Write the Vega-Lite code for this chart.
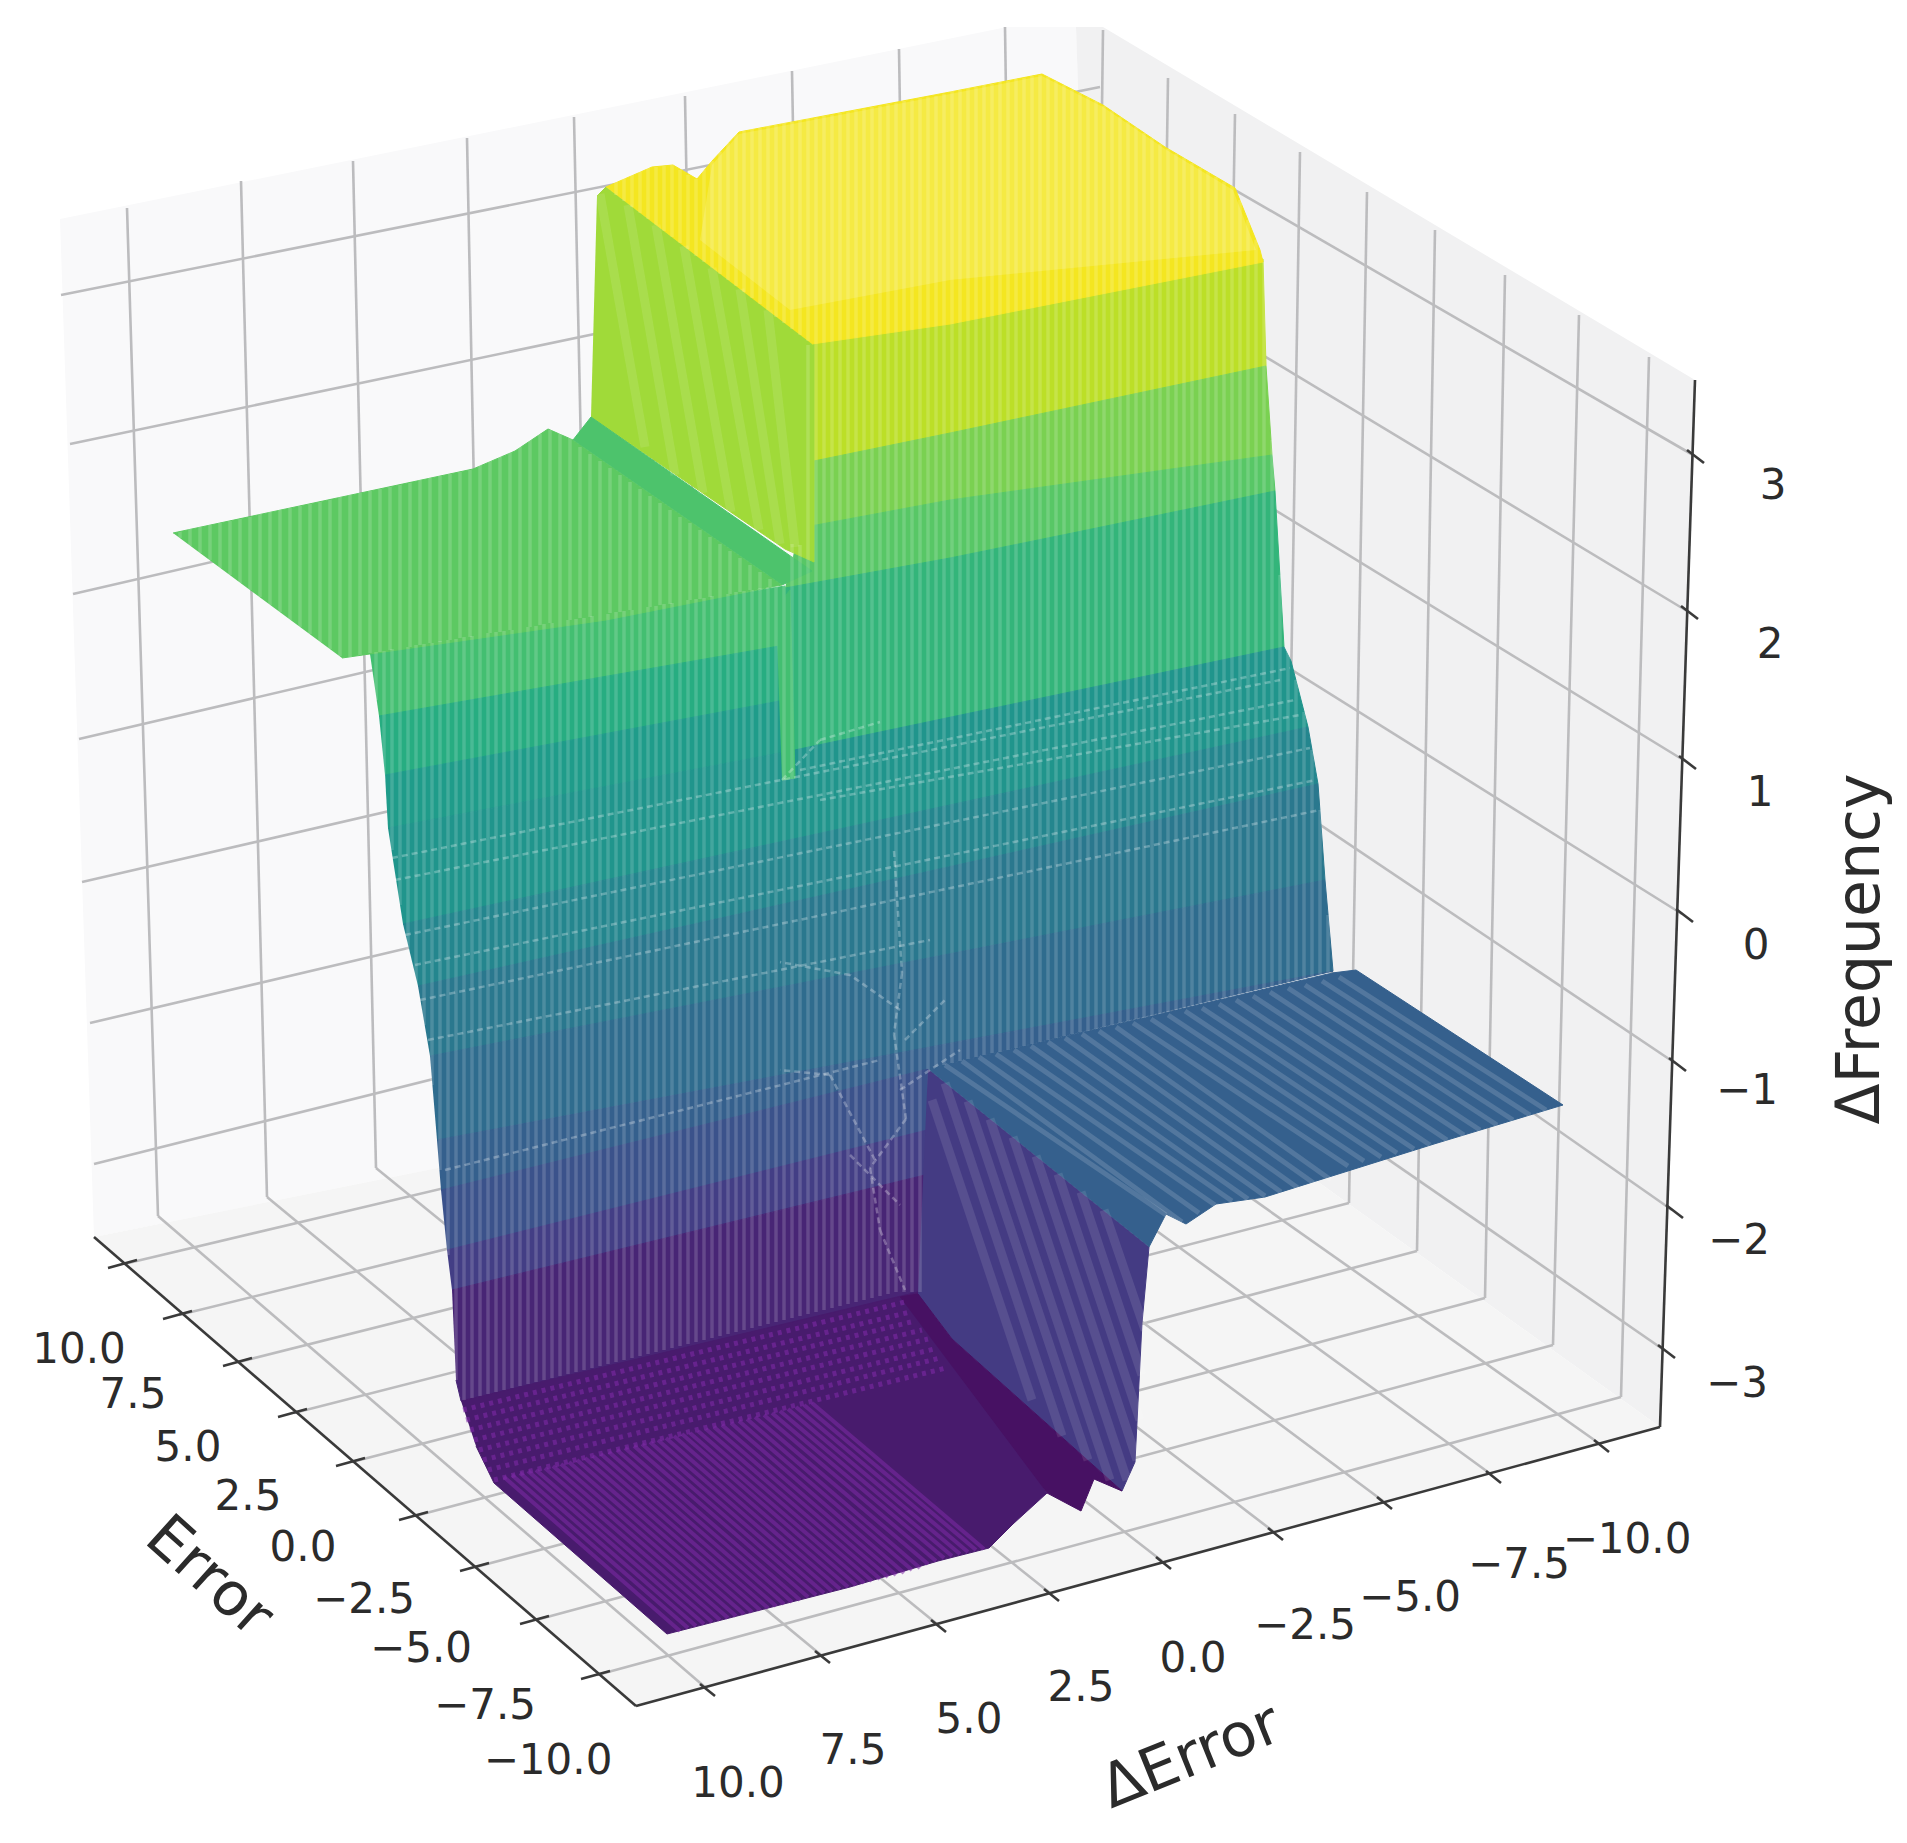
{"$schema":"https://vega.github.io/schema/vega-lite/v6.json","width":1907,"height":1843,"padding":0,"autosize":{"type":"fit","contains":"padding"},"background":"white","config":{"view":{"stroke":null}},
"datasets":{
"panes":[{"p":"l","i":0,"x":60,"y":219},{"p":"l","i":1,"x":1007,"y":27},{"p":"l","i":2,"x":1076,"y":27},{"p":"l","i":3,"x":1110,"y":1033},{"p":"l","i":4,"x":94,"y":1237},{"p":"r","i":0,"x":1076,"y":27},{"p":"r","i":1,"x":1103,"y":27},{"p":"r","i":2,"x":1695,"y":380},{"p":"r","i":3,"x":1660,"y":1427},{"p":"r","i":4,"x":1110,"y":1033},{"p":"f","i":0,"x":94,"y":1237},{"p":"f","i":1,"x":636,"y":1706},{"p":"f","i":2,"x":1660,"y":1427},{"p":"f","i":3,"x":1110,"y":1033}],
"grid":[{"x":127,"y":208,"x2":158,"y2":1216},{"x":241,"y":181,"x2":267,"y2":1197},{"x":353,"y":161,"x2":376,"y2":1168},{"x":467,"y":138,"x2":487,"y2":1143},{"x":574,"y":117,"x2":595,"y2":1120},{"x":685,"y":96,"x2":703,"y2":1095},{"x":792,"y":71,"x2":810,"y2":1075},{"x":899,"y":49,"x2":915,"y2":1055},{"x":1005,"y":27,"x2":1020,"y2":1035},
{"x":61,"y":295,"x2":1100,"y2":87},{"x":70,"y":444,"x2":1100,"y2":228},{"x":73,"y":594,"x2":1100,"y2":357},{"x":79,"y":739,"x2":1100,"y2":500},{"x":82,"y":882,"x2":1100,"y2":647},{"x":90,"y":1023,"x2":1100,"y2":785},{"x":94,"y":1164,"x2":1100,"y2":912},
{"x":1103,"y":30,"x2":1090,"y2":1035},{"x":1168,"y":78,"x2":1153,"y2":1075},{"x":1235,"y":114,"x2":1218,"y2":1115},{"x":1300,"y":152,"x2":1283,"y2":1160},{"x":1367,"y":192,"x2":1349,"y2":1203},{"x":1435,"y":230,"x2":1417,"y2":1251},{"x":1505,"y":275,"x2":1485,"y2":1298},{"x":1579,"y":315,"x2":1553,"y2":1345},{"x":1649,"y":357,"x2":1621,"y2":1397},
{"x":1100,"y":112,"x2":1693,"y2":455},{"x":1100,"y":257,"x2":1687,"y2":611},{"x":1100,"y":403,"x2":1685,"y2":761},{"x":1100,"y":550,"x2":1682,"y2":914},{"x":1100,"y":677,"x2":1675,"y2":1063},{"x":1100,"y":810,"x2":1672,"y2":1210},{"x":1100,"y":960,"x2":1664,"y2":1350},
{"x":124,"y":1264,"x2":1090,"y2":1035},{"x":179,"y":1315,"x2":1153,"y2":1075},{"x":239,"y":1362,"x2":1218,"y2":1115},{"x":294,"y":1413,"x2":1283,"y2":1160},{"x":352,"y":1462,"x2":1349,"y2":1203},{"x":415,"y":1516,"x2":1417,"y2":1251},{"x":476,"y":1567,"x2":1485,"y2":1298},{"x":536,"y":1620,"x2":1553,"y2":1345},{"x":597,"y":1675,"x2":1621,"y2":1397},
{"x":158,"y":1216,"x2":706,"y2":1688},{"x":267,"y":1197,"x2":821,"y2":1655},{"x":376,"y":1168,"x2":937,"y2":1624},{"x":487,"y":1143,"x2":1050,"y2":1593},{"x":595,"y":1120,"x2":1162,"y2":1561},{"x":703,"y":1095,"x2":1274,"y2":1532},{"x":810,"y":1075,"x2":1383,"y2":1501},{"x":915,"y":1055,"x2":1492,"y2":1475},{"x":1020,"y":1035,"x2":1600,"y2":1444}],
"axes":[{"x":94,"y":1237,"x2":636,"y2":1706},{"x":636,"y":1706,"x2":1660,"y2":1427},{"x":1660,"y":1427,"x2":1695,"y2":380},
{"x":108,"y":1268,"x2":137,"y2":1260},{"x":163,"y":1319,"x2":192,"y2":1311},{"x":223,"y":1366,"x2":252,"y2":1358},{"x":278,"y":1417,"x2":307,"y2":1409},{"x":336,"y":1466,"x2":365,"y2":1458},{"x":399,"y":1520,"x2":428,"y2":1512},{"x":460,"y":1571,"x2":489,"y2":1563},{"x":520,"y":1624,"x2":549,"y2":1616},{"x":581,"y":1679,"x2":610,"y2":1671},
{"x":700,"y":1684,"x2":715,"y2":1696},{"x":815,"y":1651,"x2":830,"y2":1663},{"x":931,"y":1620,"x2":946,"y2":1632},{"x":1044,"y":1589,"x2":1059,"y2":1601},{"x":1156,"y":1557,"x2":1171,"y2":1569},{"x":1268,"y":1528,"x2":1283,"y2":1540},{"x":1377,"y":1497,"x2":1392,"y2":1509},{"x":1486,"y":1471,"x2":1501,"y2":1483},{"x":1594,"y":1440,"x2":1609,"y2":1452},
{"x":1687,"y":450,"x2":1704,"y2":463},{"x":1681,"y":606,"x2":1698,"y2":619},{"x":1679,"y":756,"x2":1696,"y2":769},{"x":1676,"y":909,"x2":1693,"y2":922},{"x":1669,"y":1058,"x2":1686,"y2":1071},{"x":1666,"y":1205,"x2":1683,"y2":1218},{"x":1658,"y":1345,"x2":1675,"y2":1358}],
"surface":[
{"p":3,"i":0,"x":812,"y":344,"z":2.56},{"p":3,"i":1,"x":950,"y":322,"z":2.56},{"p":3,"i":2,"x":1263,"y":259,"z":2.56},{"p":3,"i":3,"x":1266,"y":366,"z":2.56},{"p":3,"i":4,"x":950,"y":433,"z":2.56},{"p":3,"i":5,"x":809,"y":462,"z":2.56},
{"p":4,"i":0,"x":809,"y":462,"z":1.92},{"p":4,"i":1,"x":950,"y":433,"z":1.92},{"p":4,"i":2,"x":1266,"y":366,"z":1.92},{"p":4,"i":3,"x":1272,"y":455,"z":1.92},{"p":4,"i":4,"x":950,"y":500,"z":1.92},{"p":4,"i":5,"x":800,"y":528,"z":1.92},
{"p":5,"i":0,"x":800,"y":528,"z":1.54},{"p":5,"i":1,"x":950,"y":500,"z":1.54},{"p":5,"i":2,"x":1272,"y":455,"z":1.54},{"p":5,"i":3,"x":1275,"y":491,"z":1.54},{"p":5,"i":4,"x":1082,"y":531,"z":1.54},{"p":5,"i":5,"x":950,"y":558,"z":1.54},{"p":5,"i":6,"x":785,"y":588,"z":1.54},
{"p":6,"i":0,"x":785,"y":588,"z":1.02},{"p":6,"i":1,"x":950,"y":558,"z":1.02},{"p":6,"i":2,"x":1082,"y":531,"z":1.02},{"p":6,"i":3,"x":1275,"y":491,"z":1.02},{"p":6,"i":4,"x":1284,"y":647,"z":1.02},{"p":6,"i":5,"x":876,"y":733,"z":1.02},{"p":6,"i":6,"x":785,"y":752,"z":1.02},
{"p":7,"i":0,"x":370,"y":654,"z":1.28},{"p":7,"i":1,"x":785,"y":586,"z":1.28},{"p":7,"i":2,"x":785,"y":645,"z":1.28},{"p":7,"i":3,"x":379,"y":716,"z":1.28},
{"p":8,"i":0,"x":379,"y":716,"z":0.77},{"p":8,"i":1,"x":785,"y":645,"z":0.77},{"p":8,"i":2,"x":785,"y":700,"z":0.77},{"p":8,"i":3,"x":385,"y":775,"z":0.77},
{"p":9,"i":0,"x":385,"y":775,"z":0.32},{"p":9,"i":1,"x":785,"y":700,"z":0.32},{"p":9,"i":2,"x":785,"y":752,"z":0.32},{"p":9,"i":3,"x":388,"y":828,"z":0.32},
{"p":10,"i":0,"x":388,"y":828,"z":0.13},{"p":10,"i":1,"x":785,"y":752,"z":0.13},{"p":10,"i":2,"x":1284,"y":647,"z":0.13},{"p":10,"i":3,"x":1291,"y":661,"z":0.13},{"p":10,"i":4,"x":1308,"y":727,"z":0.13},{"p":10,"i":5,"x":403,"y":924,"z":0.13},
{"p":11,"i":0,"x":403,"y":924,"z":-0.26},{"p":11,"i":1,"x":1308,"y":727,"z":-0.26},{"p":11,"i":2,"x":1318,"y":784,"z":-0.26},{"p":11,"i":3,"x":418,"y":986,"z":-0.26},
{"p":12,"i":0,"x":418,"y":986,"z":-0.64},{"p":12,"i":1,"x":1318,"y":784,"z":-0.64},{"p":12,"i":2,"x":1325,"y":880,"z":-0.64},{"p":12,"i":3,"x":430,"y":1056,"z":-0.64},
{"p":13,"i":0,"x":430,"y":1056,"z":-0.96},{"p":13,"i":1,"x":1325,"y":880,"z":-0.96},{"p":13,"i":2,"x":1333,"y":971,"z":-0.96},{"p":13,"i":3,"x":437,"y":1140,"z":-0.96},
{"p":14,"i":0,"x":437,"y":1140,"z":-1.28},{"p":14,"i":1,"x":1333,"y":971,"z":-1.28},{"p":14,"i":2,"x":928,"y":1069,"z":-1.28},{"p":14,"i":3,"x":441,"y":1190,"z":-1.28},
{"p":15,"i":0,"x":441,"y":1190,"z":-1.6},{"p":15,"i":1,"x":928,"y":1069,"z":-1.6},{"p":15,"i":2,"x":927,"y":1130,"z":-1.6},{"p":15,"i":3,"x":447,"y":1250,"z":-1.6},
{"p":16,"i":0,"x":447,"y":1250,"z":-2.05},{"p":16,"i":1,"x":927,"y":1130,"z":-2.05},{"p":16,"i":2,"x":925,"y":1175,"z":-2.05},{"p":16,"i":3,"x":452,"y":1290,"z":-2.05},
{"p":17,"i":0,"x":452,"y":1290,"z":-2.56},{"p":17,"i":1,"x":925,"y":1175,"z":-2.56},{"p":17,"i":2,"x":920,"y":1294,"z":-2.56},{"p":17,"i":3,"x":461,"y":1401,"z":-2.56},{"p":17,"i":4,"x":456,"y":1380,"z":-2.56},
{"p":1,"i":0,"x":597,"y":196,"z":2.3},{"p":1,"i":1,"x":606,"y":187,"z":2.3},{"p":1,"i":2,"x":814,"y":344,"z":2.3},{"p":1,"i":3,"x":814,"y":562,"z":2.3},{"p":1,"i":4,"x":785,"y":549,"z":2.3},{"p":1,"i":5,"x":591,"y":417,"z":2.3},
{"p":2,"i":0,"x":606,"y":187,"z":3.1},{"p":2,"i":1,"x":652,"y":167,"z":3.1},{"p":2,"i":2,"x":673,"y":165,"z":3.1},{"p":2,"i":3,"x":697,"y":179,"z":3.1},{"p":2,"i":4,"x":712,"y":161,"z":3.1},{"p":2,"i":5,"x":739,"y":132,"z":3.1},{"p":2,"i":6,"x":950,"y":92,"z":3.1},{"p":2,"i":7,"x":1042,"y":74,"z":3.1},{"p":2,"i":8,"x":1103,"y":105,"z":3.1},{"p":2,"i":9,"x":1165,"y":147,"z":3.1},{"p":2,"i":10,"x":1235,"y":188,"z":3.1},{"p":2,"i":11,"x":1260,"y":250,"z":3.1},{"p":2,"i":12,"x":1263,"y":262,"z":3.1},{"p":2,"i":13,"x":950,"y":324,"z":3.1},{"p":2,"i":14,"x":812,"y":344,"z":3.1},
{"p":18,"i":0,"x":461,"y":1401,"z":-2.75},{"p":18,"i":1,"x":918,"y":1292,"z":-2.75},{"p":18,"i":2,"x":1047,"y":1493,"z":-2.75},{"p":18,"i":3,"x":1013,"y":1524,"z":-2.75},{"p":18,"i":4,"x":989,"y":1548,"z":-2.75},{"p":18,"i":5,"x":938,"y":1561,"z":-2.75},{"p":18,"i":6,"x":850,"y":1587,"z":-2.75},{"p":18,"i":7,"x":667,"y":1634,"z":-2.75},{"p":18,"i":8,"x":494,"y":1483,"z":-2.75},{"p":18,"i":9,"x":476,"y":1446,"z":-2.75},
{"p":19,"i":0,"x":928,"y":1069,"z":-2.11},{"p":19,"i":1,"x":1149,"y":1247,"z":-2.11},{"p":19,"i":2,"x":1142,"y":1323,"z":-2.11},{"p":19,"i":3,"x":1135,"y":1462,"z":-2.11},{"p":19,"i":4,"x":1122,"y":1491,"z":-2.11},{"p":19,"i":5,"x":952,"y":1339,"z":-2.11},{"p":19,"i":6,"x":918,"y":1294,"z":-2.11},
{"p":20,"i":0,"x":900,"y":1297,"z":-2.94},{"p":20,"i":1,"x":918,"y":1294,"z":-2.94},{"p":20,"i":2,"x":952,"y":1339,"z":-2.94},{"p":20,"i":3,"x":1122,"y":1491,"z":-2.94},{"p":20,"i":4,"x":1094,"y":1479,"z":-2.94},{"p":20,"i":5,"x":1081,"y":1511,"z":-2.94},{"p":20,"i":6,"x":1047,"y":1493,"z":-2.94},
{"p":21,"i":0,"x":173,"y":533,"z":1.6},{"p":21,"i":1,"x":473,"y":469,"z":1.6},{"p":21,"i":2,"x":515,"y":451,"z":1.6},{"p":21,"i":3,"x":548,"y":429,"z":1.6},{"p":21,"i":4,"x":573,"y":440,"z":1.6},{"p":21,"i":5,"x":782,"y":585,"z":1.6},{"p":21,"i":6,"x":606,"y":620,"z":1.6},{"p":21,"i":7,"x":342,"y":658,"z":1.6},
{"p":22,"i":0,"x":573,"y":440,"z":1.41},{"p":22,"i":1,"x":591,"y":417,"z":1.41},{"p":22,"i":2,"x":812,"y":571,"z":1.41},{"p":22,"i":3,"x":782,"y":585,"z":1.41},
{"p":23,"i":0,"x":776,"y":608,"z":1.28},{"p":23,"i":1,"x":790,"y":590,"z":1.28},{"p":23,"i":2,"x":795,"y":778,"z":1.28},{"p":23,"i":3,"x":782,"y":780,"z":1.28},
{"p":24,"i":0,"x":928,"y":1069,"z":-1.28},{"p":24,"i":1,"x":1332,"y":973,"z":-1.28},{"p":24,"i":2,"x":1356,"y":970,"z":-1.28},{"p":24,"i":3,"x":1563,"y":1105,"z":-1.28},{"p":24,"i":4,"x":1434,"y":1144,"z":-1.28},{"p":24,"i":5,"x":1265,"y":1197,"z":-1.28},{"p":24,"i":6,"x":1216,"y":1204,"z":-1.28},{"p":24,"i":7,"x":1186,"y":1224,"z":-1.28},{"p":24,"i":8,"x":1166,"y":1214,"z":-1.28},{"p":24,"i":9,"x":1149,"y":1247,"z":-1.28}],
"sheen":[{"i":0,"x":739,"y":134},{"i":1,"x":950,"y":94},{"i":2,"x":1042,"y":76},{"i":3,"x":1103,"y":107},{"i":4,"x":1165,"y":149},{"i":5,"x":1233,"y":190},{"i":6,"x":1256,"y":250},{"i":7,"x":950,"y":280},{"i":8,"x":790,"y":310},{"i":9,"x":700,"y":240},{"i":10,"x":712,"y":165}],
"mesh":[{"x":376,"y":652,"y2":700},{"x":384,"y":651,"y2":790},{"x":392,"y":649,"y2":850},{"x":400,"y":648,"y2":905},{"x":408,"y":647,"y2":955},{"x":416,"y":645,"y2":985},{"x":424,"y":644,"y2":1025},{"x":432,"y":643,"y2":1085},{"x":440,"y":641,"y2":1170},{"x":448,"y":640,"y2":1255},{"x":456,"y":639,"y2":1380},{"x":464,"y":637,"y2":1400},{"x":472,"y":636,"y2":1398},{"x":480,"y":635,"y2":1396},{"x":488,"y":633,"y2":1394},{"x":496,"y":632,"y2":1392},{"x":504,"y":631,"y2":1390},{"x":512,"y":630,"y2":1388},{"x":520,"y":628,"y2":1386},{"x":528,"y":627,"y2":1384},{"x":536,"y":626,"y2":1382},{"x":544,"y":624,"y2":1380},{"x":552,"y":623,"y2":1378},{"x":560,"y":622,"y2":1376},{"x":568,"y":620,"y2":1374},{"x":576,"y":619,"y2":1372},{"x":584,"y":618,"y2":1370},{"x":592,"y":616,"y2":1368},{"x":600,"y":615,"y2":1366},{"x":608,"y":614,"y2":1364},{"x":616,"y":612,"y2":1362},{"x":624,"y":611,"y2":1360},{"x":632,"y":610,"y2":1358},{"x":640,"y":608,"y2":1356},{"x":648,"y":607,"y2":1354},{"x":656,"y":606,"y2":1352},{"x":664,"y":604,"y2":1350},{"x":672,"y":603,"y2":1348},{"x":680,"y":602,"y2":1346},{"x":688,"y":600,"y2":1344},{"x":696,"y":599,"y2":1342},{"x":704,"y":598,"y2":1340},{"x":712,"y":596,"y2":1338},{"x":720,"y":595,"y2":1336},{"x":728,"y":594,"y2":1334},{"x":736,"y":592,"y2":1332},{"x":744,"y":591,"y2":1330},{"x":752,"y":590,"y2":1328},{"x":760,"y":588,"y2":1326},{"x":768,"y":587,"y2":1324},{"x":776,"y":586,"y2":1322},{"x":784,"y":585,"y2":1320},{"x":792,"y":544,"y2":1318},{"x":800,"y":545,"y2":1316},{"x":808,"y":345,"y2":1314},{"x":816,"y":118,"y2":1312},{"x":824,"y":116,"y2":1310},{"x":832,"y":115,"y2":1308},{"x":840,"y":113,"y2":1306},{"x":848,"y":112,"y2":1304},{"x":856,"y":110,"y2":1302},{"x":864,"y":109,"y2":1300},{"x":872,"y":107,"y2":1298},{"x":880,"y":106,"y2":1296},{"x":888,"y":104,"y2":1294},{"x":896,"y":103,"y2":1292},{"x":904,"y":101,"y2":1292},{"x":912,"y":100,"y2":1292},{"x":920,"y":98,"y2":1292},{"x":928,"y":97,"y2":1069},{"x":936,"y":96,"y2":1067},{"x":944,"y":94,"y2":1065},{"x":952,"y":91,"y2":1063},{"x":960,"y":90,"y2":1061},{"x":968,"y":88,"y2":1059},{"x":976,"y":87,"y2":1057},{"x":984,"y":85,"y2":1055},{"x":992,"y":84,"y2":1053},{"x":1000,"y":82,"y2":1052},{"x":1008,"y":81,"y2":1050},{"x":1016,"y":79,"y2":1048},{"x":1024,"y":78,"y2":1046},{"x":1032,"y":76,"y2":1044},{"x":1040,"y":75,"y2":1042},{"x":1048,"y":77,"y2":1040},{"x":1056,"y":81,"y2":1038},{"x":1064,"y":85,"y2":1036},{"x":1072,"y":89,"y2":1034},{"x":1080,"y":93,"y2":1032},{"x":1088,"y":97,"y2":1031},{"x":1096,"y":101,"y2":1029},{"x":1104,"y":106,"y2":1027},{"x":1112,"y":111,"y2":1025},{"x":1120,"y":117,"y2":1023},{"x":1128,"y":122,"y2":1021},{"x":1136,"y":127,"y2":1019},{"x":1144,"y":133,"y2":1018},{"x":1152,"y":138,"y2":1016},{"x":1160,"y":144,"y2":1014},{"x":1168,"y":149,"y2":1012},{"x":1176,"y":154,"y2":1010},{"x":1184,"y":158,"y2":1008},{"x":1192,"y":163,"y2":1006},{"x":1200,"y":168,"y2":1004},{"x":1208,"y":172,"y2":1002},{"x":1216,"y":177,"y2":1000},{"x":1224,"y":182,"y2":999},{"x":1232,"y":186,"y2":997},{"x":1240,"y":200,"y2":995},{"x":1248,"y":220,"y2":993},{"x":1256,"y":240,"y2":991},{"x":1264,"y":262,"y2":989},{"x":1272,"y":440,"y2":987},{"x":1280,"y":575,"y2":985},{"x":1288,"y":650,"y2":983},{"x":1296,"y":680,"y2":981},{"x":1304,"y":712,"y2":980},{"x":1312,"y":750,"y2":978},{"x":1320,"y":810,"y2":976},{"x":1328,"y":915,"y2":974},
{"x":616,"y":180,"y2":195},{"x":624,"y":177,"y2":201},{"x":632,"y":173,"y2":207},{"x":640,"y":170,"y2":213},{"x":648,"y":168,"y2":219},{"x":656,"y":167,"y2":225},{"x":664,"y":166,"y2":231},{"x":672,"y":165,"y2":237},{"x":680,"y":170,"y2":243},{"x":688,"y":175,"y2":249},{"x":696,"y":179,"y2":256},{"x":704,"y":170,"y2":262},{"x":712,"y":161,"y2":268},{"x":720,"y":152,"y2":274},{"x":728,"y":143,"y2":280},{"x":736,"y":134,"y2":286},{"x":744,"y":131,"y2":292},{"x":752,"y":129,"y2":298},{"x":760,"y":128,"y2":304},{"x":768,"y":126,"y2":310},{"x":776,"y":125,"y2":317},{"x":784,"y":123,"y2":323},{"x":792,"y":122,"y2":329},{"x":800,"y":120,"y2":335},{"x":808,"y":118,"y2":341},
{"x":180,"y":532,"y2":538},{"x":190,"y":529,"y2":546},{"x":200,"y":527,"y2":553},{"x":210,"y":525,"y2":560},{"x":220,"y":523,"y2":568},{"x":230,"y":521,"y2":575},{"x":240,"y":519,"y2":583},{"x":250,"y":517,"y2":590},{"x":260,"y":514,"y2":597},{"x":270,"y":512,"y2":605},{"x":280,"y":510,"y2":612},{"x":290,"y":508,"y2":620},{"x":300,"y":506,"y2":627},{"x":310,"y":504,"y2":634},{"x":320,"y":502,"y2":642},{"x":330,"y":500,"y2":649},{"x":340,"y":497,"y2":656},{"x":350,"y":495,"y2":657},{"x":360,"y":493,"y2":655},{"x":370,"y":491,"y2":653},{"x":380,"y":489,"y2":652},{"x":390,"y":487,"y2":650},{"x":400,"y":485,"y2":648},{"x":410,"y":483,"y2":647},{"x":420,"y":480,"y2":645},{"x":430,"y":478,"y2":643},{"x":440,"y":476,"y2":642},{"x":450,"y":474,"y2":640},{"x":460,"y":472,"y2":638},{"x":470,"y":470,"y2":637},{"x":480,"y":465,"y2":635},{"x":490,"y":460,"y2":633},{"x":500,"y":455,"y2":632},{"x":510,"y":450,"y2":630},{"x":520,"y":445,"y2":628},{"x":530,"y":439,"y2":627},{"x":540,"y":434,"y2":625},{"x":550,"y":430,"y2":623},{"x":560,"y":433,"y2":622},{"x":570,"y":438,"y2":620},{"x":580,"y":447,"y2":618},{"x":590,"y":454,"y2":617},{"x":600,"y":461,"y2":615},{"x":610,"y":468,"y2":613},{"x":620,"y":475,"y2":612},{"x":630,"y":482,"y2":610},{"x":640,"y":489,"y2":608},{"x":650,"y":496,"y2":607},{"x":660,"y":503,"y2":605},{"x":670,"y":510,"y2":604},{"x":680,"y":517,"y2":602},{"x":690,"y":523,"y2":600},{"x":700,"y":530,"y2":599},{"x":710,"y":537,"y2":597},{"x":720,"y":544,"y2":595},{"x":730,"y":551,"y2":594},{"x":740,"y":558,"y2":592},{"x":750,"y":565,"y2":590},{"x":760,"y":572,"y2":589},{"x":770,"y":579,"y2":587}],
"floorMesh":[{"x":504,"y":1477,"x2":680,"y2":1631},{"x":512,"y":1475,"x2":688,"y2":1628},{"x":520,"y":1473,"x2":696,"y2":1626},{"x":528,"y":1471,"x2":704,"y2":1624},{"x":536,"y":1470,"x2":712,"y2":1622},{"x":545,"y":1468,"x2":720,"y2":1620},{"x":553,"y":1466,"x2":728,"y2":1618},{"x":561,"y":1464,"x2":736,"y2":1616},{"x":569,"y":1462,"x2":744,"y2":1614},{"x":577,"y":1460,"x2":752,"y2":1612},{"x":585,"y":1458,"x2":760,"y2":1610},{"x":593,"y":1456,"x2":768,"y2":1608},{"x":601,"y":1454,"x2":776,"y2":1606},{"x":609,"y":1452,"x2":784,"y2":1604},{"x":617,"y":1450,"x2":792,"y2":1602},{"x":625,"y":1448,"x2":800,"y2":1600},{"x":634,"y":1446,"x2":808,"y2":1597},{"x":642,"y":1444,"x2":816,"y2":1595},{"x":650,"y":1442,"x2":824,"y2":1593},{"x":658,"y":1440,"x2":832,"y2":1591},{"x":666,"y":1438,"x2":840,"y2":1589},{"x":674,"y":1436,"x2":848,"y2":1587},{"x":682,"y":1434,"x2":856,"y2":1585},{"x":690,"y":1433,"x2":864,"y2":1583},{"x":698,"y":1431,"x2":872,"y2":1581},{"x":706,"y":1429,"x2":880,"y2":1579},{"x":714,"y":1427,"x2":888,"y2":1577},{"x":722,"y":1425,"x2":896,"y2":1575},{"x":731,"y":1423,"x2":904,"y2":1573},{"x":739,"y":1421,"x2":912,"y2":1570},{"x":747,"y":1419,"x2":920,"y2":1568},{"x":755,"y":1417,"x2":928,"y2":1564},{"x":764,"y":1415,"x2":936,"y2":1561},{"x":772,"y":1413,"x2":944,"y2":1558},{"x":780,"y":1411,"x2":952,"y2":1556},{"x":788,"y":1409,"x2":960,"y2":1554},{"x":796,"y":1407,"x2":968,"y2":1552},{"x":804,"y":1405,"x2":976,"y2":1550},{"x":812,"y":1403,"x2":984,"y2":1549}],
"floorDots":[{"x":463,"y":1410,"x2":905,"y2":1302},{"x":466,"y":1420,"x2":910,"y2":1312},{"x":470,"y":1430,"x2":915,"y2":1321},{"x":474,"y":1440,"x2":922,"y2":1330},{"x":479,"y":1450,"x2":928,"y2":1339},{"x":483,"y":1460,"x2":934,"y2":1349},{"x":488,"y":1470,"x2":940,"y2":1358},{"x":494,"y":1480,"x2":946,"y2":1368}],
"plateauMesh":[{"x":945,"y":1065,"x2":1166,"y2":1215},{"x":962,"y":1061,"x2":1182,"y2":1222},{"x":979,"y":1057,"x2":1199,"y2":1213},{"x":996,"y":1054,"x2":1215,"y2":1205},{"x":1014,"y":1050,"x2":1232,"y2":1201},{"x":1031,"y":1046,"x2":1248,"y2":1199},{"x":1048,"y":1042,"x2":1265,"y2":1196},{"x":1065,"y":1038,"x2":1281,"y2":1192},{"x":1082,"y":1034,"x2":1298,"y2":1188},{"x":1099,"y":1031,"x2":1315,"y2":1184},{"x":1116,"y":1027,"x2":1331,"y2":1180},{"x":1133,"y":1023,"x2":1348,"y2":1166},{"x":1151,"y":1019,"x2":1364,"y2":1161},{"x":1168,"y":1015,"x2":1381,"y2":1157},{"x":1185,"y":1011,"x2":1397,"y2":1153},{"x":1202,"y":1008,"x2":1414,"y2":1149},{"x":1219,"y":1004,"x2":1430,"y2":1145},{"x":1236,"y":1000,"x2":1447,"y2":1140},{"x":1253,"y":996,"x2":1464,"y2":1135},{"x":1270,"y":992,"x2":1480,"y2":1130},{"x":1288,"y":988,"x2":1497,"y2":1125},{"x":1305,"y":985,"x2":1513,"y2":1120},{"x":1322,"y":981,"x2":1530,"y2":1115},{"x":1339,"y":977,"x2":1546,"y2":1110}],
"wallMesh":[{"x":600,"y":194,"x2":645,"y2":447},{"x":628,"y":205,"x2":675,"y2":475},{"x":656,"y":225,"x2":703,"y2":493},{"x":684,"y":246,"x2":731,"y2":512},{"x":712,"y":268,"x2":759,"y2":530},{"x":740,"y":289,"x2":780,"y2":544},{"x":768,"y":310,"x2":795,"y2":547},
{"x":932,"y":1100,"x2":1032,"y2":1400},{"x":945,"y":1083,"x2":1062,"y2":1436},{"x":968,"y":1101,"x2":1088,"y2":1460},{"x":990,"y":1119,"x2":1110,"y2":1480},{"x":1013,"y":1137,"x2":1127,"y2":1480},{"x":1036,"y":1156,"x2":1137,"y2":1460},{"x":1058,"y":1174,"x2":1140,"y2":1420},{"x":1081,"y":1192,"x2":1142,"y2":1375},{"x":1104,"y":1210,"x2":1145,"y2":1330}],
"ripples":[{"x":392,"y":858,"x2":1280,"y2":680},{"x":395,"y":880,"x2":1295,"y2":700},{"x":405,"y":935,"x2":1310,"y2":748},{"x":415,"y":965,"x2":1316,"y2":780},{"x":420,"y":1000,"x2":1320,"y2":810},{"x":428,"y":1040,"x2":930,"y2":940},{"x":445,"y":1170,"x2":880,"y2":1060},{"x":800,"y":770,"x2":1290,"y2":668},{"x":820,"y":800,"x2":1300,"y2":715},
{"x":894,"y":851,"x2":902,"y2":973},{"x":902,"y":973,"x2":894,"y2":1034},{"x":894,"y":1034,"x2":906,"y2":1119},{"x":906,"y":1119,"x2":870,"y2":1168},{"x":870,"y":1168,"x2":880,"y2":1230},{"x":880,"y":1230,"x2":905,"y2":1290},{"x":782,"y":780,"x2":820,"y2":740},{"x":820,"y":740,"x2":880,"y2":722},{"x":900,"y":1010,"x2":850,"y2":975},{"x":850,"y":975,"x2":780,"y2":962},{"x":875,"y":1160,"x2":830,"y2":1075},{"x":830,"y":1075,"x2":780,"y2":1070},{"x":850,"y":1155,"x2":900,"y2":1205},{"x":905,"y":1040,"x2":945,"y2":1000},{"x":900,"y":1090,"x2":960,"y2":1050}],
"labels":[{"t":"10.0","x":79,"y":1350},{"t":"7.5","x":133,"y":1395},{"t":"5.0","x":188,"y":1448},{"t":"2.5","x":248,"y":1497},{"t":"0.0","x":303,"y":1548},{"t":"−2.5","x":364,"y":1600},{"t":"−5.0","x":421,"y":1649},{"t":"−7.5","x":485,"y":1706},{"t":"−10.0","x":548,"y":1761},
{"t":"10.0","x":738,"y":1784},{"t":"7.5","x":853,"y":1751},{"t":"5.0","x":969,"y":1720},{"t":"2.5","x":1081,"y":1688},{"t":"0.0","x":1193,"y":1659},{"t":"−2.5","x":1305,"y":1626},{"t":"−5.0","x":1410,"y":1598},{"t":"−7.5","x":1519,"y":1565},{"t":"−10.0","x":1627,"y":1540},
{"t":"3","x":1773,"y":486},{"t":"2","x":1770,"y":645},{"t":"1","x":1760,"y":793},{"t":"0","x":1756,"y":946},{"t":"−1","x":1747,"y":1091},{"t":"−2","x":1739,"y":1241},{"t":"−3","x":1737,"y":1384}]
},
"encoding":{"x":{"field":"x","type":"quantitative","scale":{"domain":[0,1907],"nice":false,"zero":false},"axis":null},"y":{"field":"y","type":"quantitative","scale":{"domain":[1843,0],"nice":false,"zero":false},"axis":null}},
"layer":[
{"data":{"name":"panes"},"mark":{"type":"line","strokeWidth":0},"encoding":{"order":{"field":"i"},"detail":{"field":"p"},"fill":{"field":"p","type":"nominal","scale":{"domain":["l","r","f"],"range":["#f9f9fa","#f1f1f2","#f5f5f5"]},"legend":null}}},
{"data":{"name":"grid"},"mark":{"type":"rule","color":"#bcbcbe","strokeWidth":2.6},"encoding":{"x2":{"field":"x2"},"y2":{"field":"y2"}}},
{"data":{"name":"axes"},"mark":{"type":"rule","color":"#3a3a3a","strokeWidth":2.6},"encoding":{"x2":{"field":"x2"},"y2":{"field":"y2"}}},
{"data":{"name":"surface"},"mark":{"type":"line","strokeWidth":1},"encoding":{"order":{"field":"i"},"detail":{"field":"p"},"fill":{"field":"z","type":"quantitative","scale":{"scheme":"viridis","domain":[-3.2,3.2]},"legend":null},"stroke":{"field":"z","type":"quantitative","scale":{"scheme":"viridis","domain":[-3.2,3.2]},"legend":null}}},
{"data":{"name":"sheen"},"mark":{"type":"line","strokeWidth":0,"fill":"white","fillOpacity":0.16},"encoding":{"order":{"field":"i"}}},
{"data":{"name":"mesh"},"mark":{"type":"rule","color":"white","strokeWidth":3.5,"opacity":0.16},"encoding":{"y2":{"field":"y2"}}},
{"data":{"name":"wallMesh"},"mark":{"type":"rule","color":"white","strokeWidth":9,"opacity":0.1},"encoding":{"x2":{"field":"x2"},"y2":{"field":"y2"}}},
{"data":{"name":"plateauMesh"},"mark":{"type":"rule","color":"white","strokeWidth":5,"opacity":0.15},"encoding":{"x2":{"field":"x2"},"y2":{"field":"y2"}}},
{"data":{"name":"floorMesh"},"mark":{"type":"rule","color":"#7d2aa5","strokeWidth":4,"opacity":0.55},"encoding":{"x2":{"field":"x2"},"y2":{"field":"y2"}}},
{"data":{"name":"floorDots"},"mark":{"type":"rule","color":"#7d2aa5","strokeWidth":5,"opacity":0.6,"strokeDash":[4,5]},"encoding":{"x2":{"field":"x2"},"y2":{"field":"y2"}}},
{"data":{"name":"ripples"},"mark":{"type":"rule","color":"white","strokeWidth":2.5,"opacity":0.28,"strokeDash":[6,4]},"encoding":{"x2":{"field":"x2"},"y2":{"field":"y2"}}},
{"data":{"name":"labels"},"mark":{"type":"text","font":"DejaVu Sans","fontSize":42,"color":"#2b2b2b","align":"center","baseline":"middle"},"encoding":{"text":{"field":"t"}}},
{"data":{"values":[{"t":"Error","x":209,"y":1577}]},"mark":{"type":"text","font":"DejaVu Sans","fontSize":60,"color":"#2b2b2b","align":"center","baseline":"middle","angle":42},"encoding":{"text":{"field":"t"}}},
{"data":{"values":[{"t":"ΔError","x":1191,"y":1757}]},"mark":{"type":"text","font":"DejaVu Sans","fontSize":60,"color":"#2b2b2b","align":"center","baseline":"middle","angle":338},"encoding":{"text":{"field":"t"}}},
{"data":{"values":[{"t":"ΔFrequency","x":1861,"y":949}]},"mark":{"type":"text","font":"DejaVu Sans","fontSize":60,"color":"#2b2b2b","align":"center","baseline":"middle","angle":270},"encoding":{"text":{"field":"t"}}}
]}
